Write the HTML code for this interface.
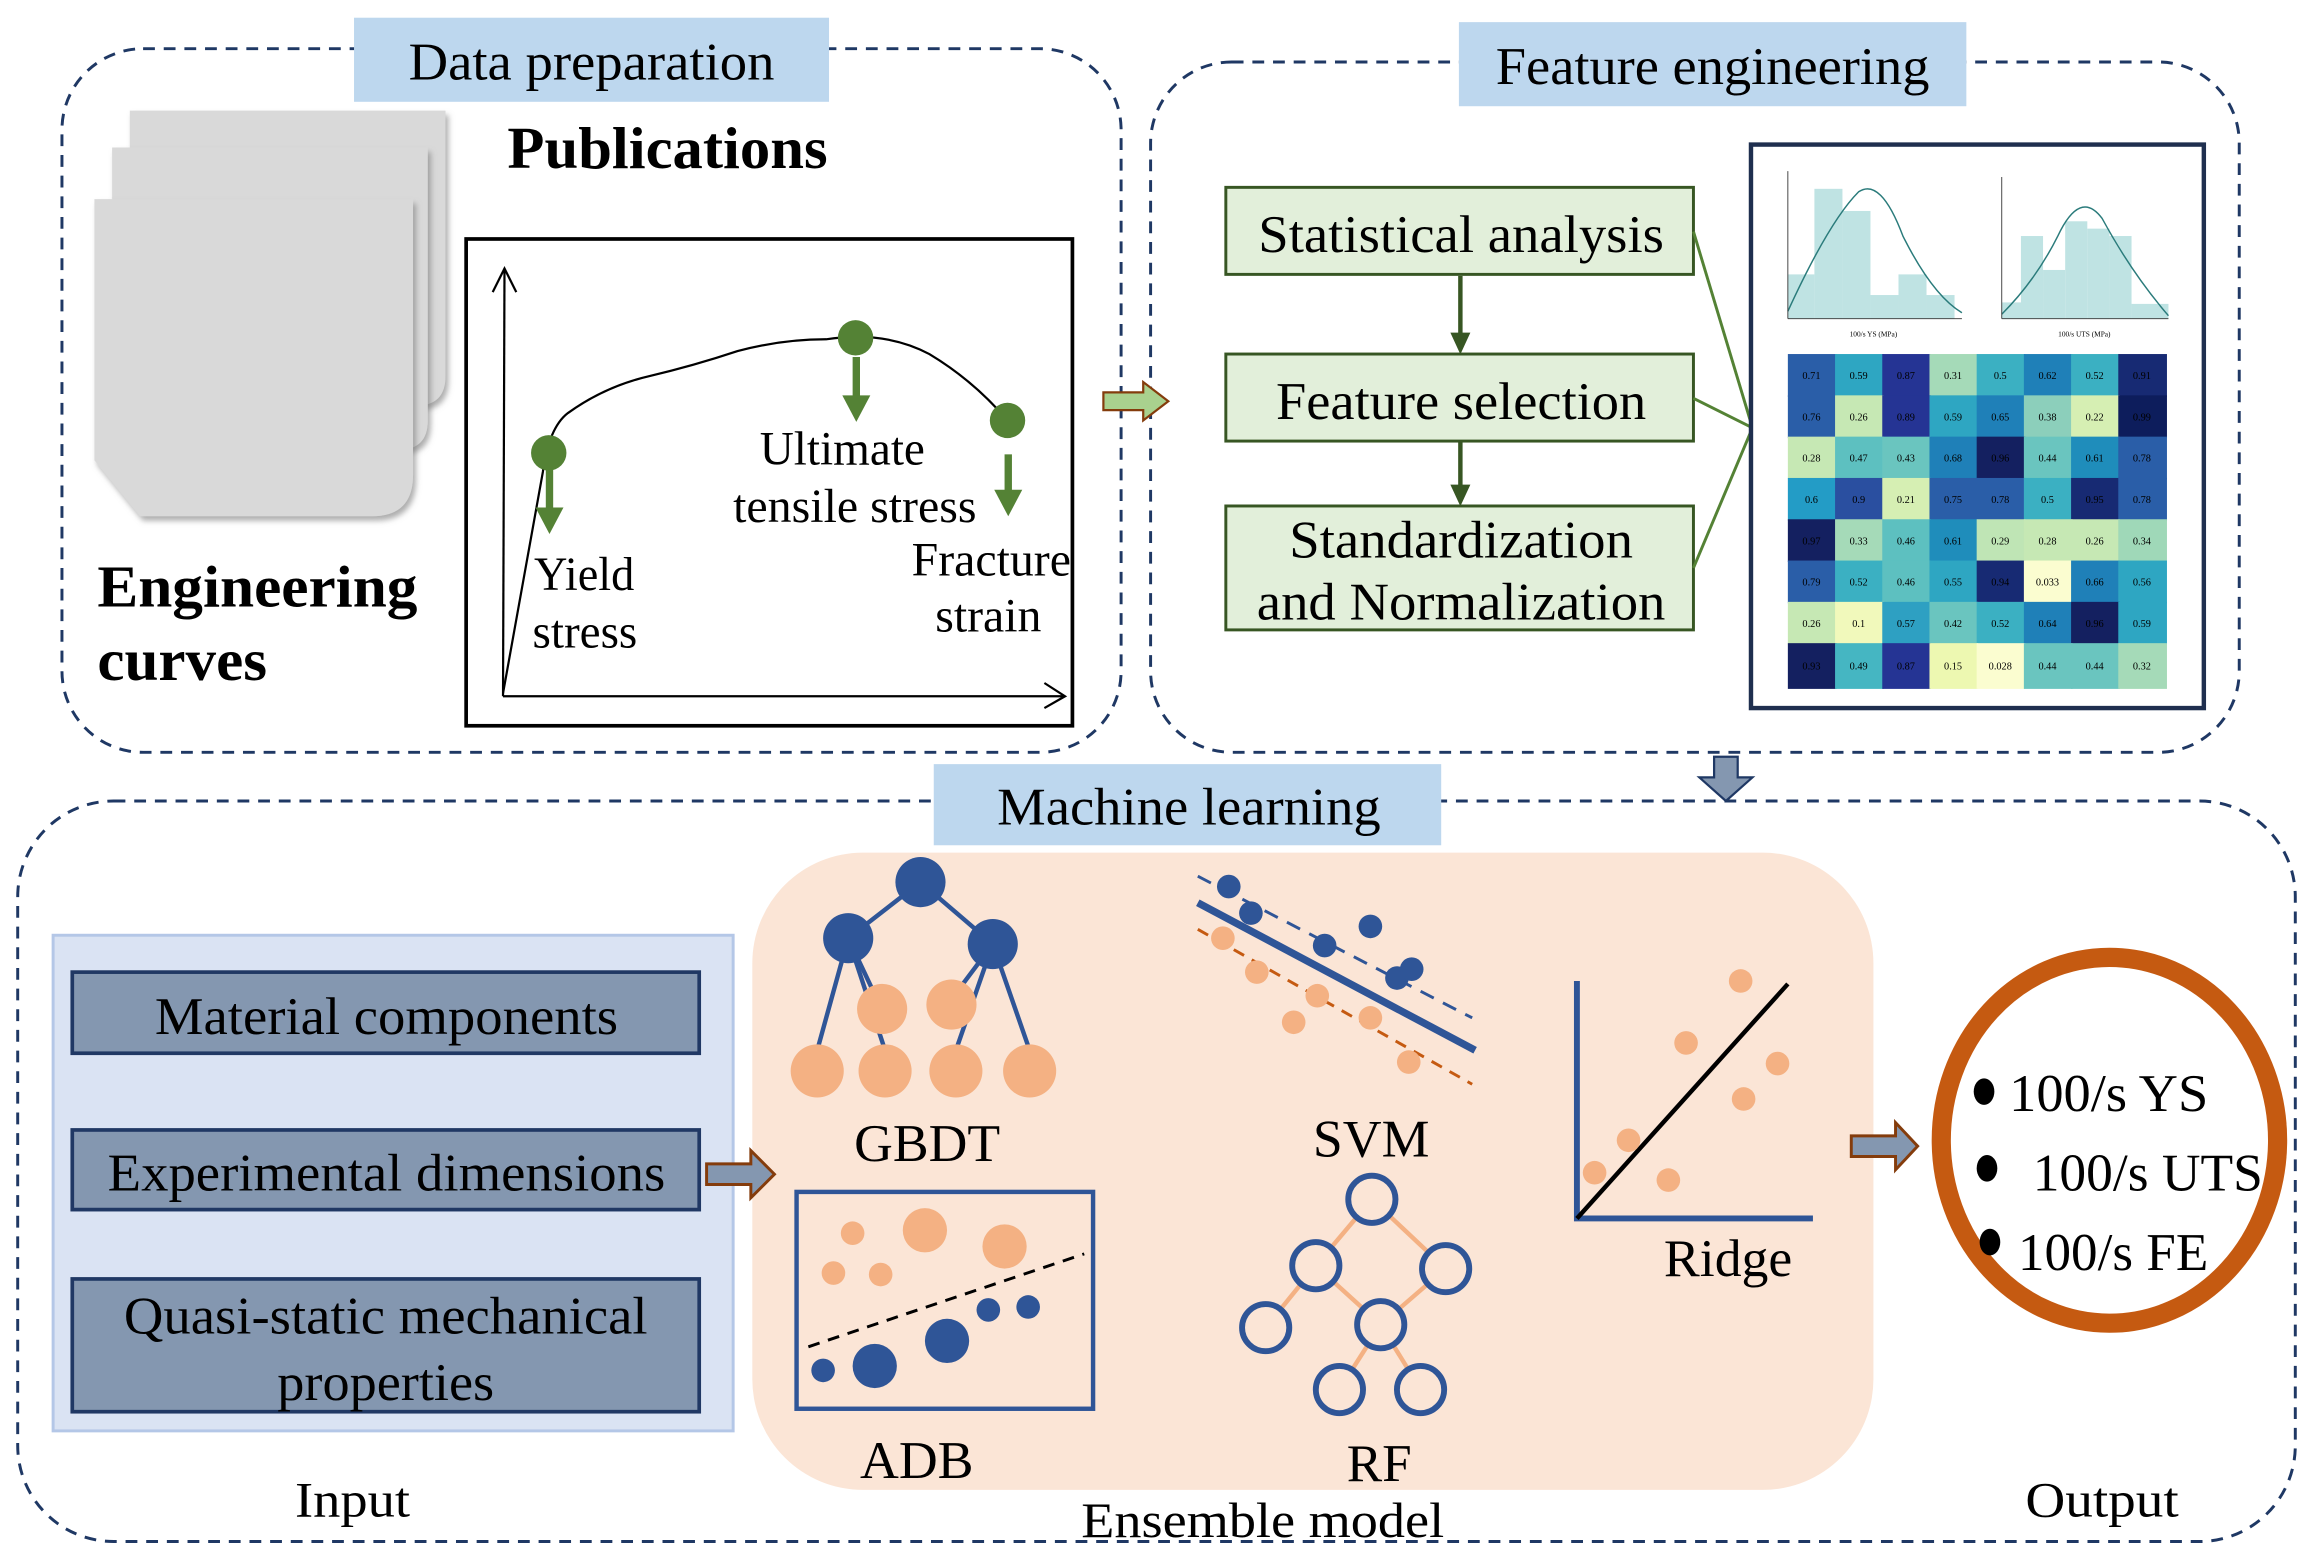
<!DOCTYPE html>
<html><head><meta charset="utf-8"><style>
html,body{margin:0;padding:0;background:#fff;}
svg{display:block;}
text{font-family:"Liberation Serif",serif;fill:#000;}
</style></head><body>
<svg width="2313" height="1561" viewBox="0 0 1568 1058.2" xmlns="http://www.w3.org/2000/svg">
<defs>
<filter id="sh" x="-10%" y="-10%" width="130%" height="130%"><feDropShadow dx="2" dy="3" stdDeviation="2" flood-color="#777" flood-opacity="0.6"/></filter>
</defs>
<rect x="42" y="33" width="718" height="477" rx="55" fill="none" stroke="#1f3864" stroke-width="2" stroke-dasharray="8,6"/>
<rect x="780" y="42" width="738" height="468" rx="55" fill="none" stroke="#1f3864" stroke-width="2" stroke-dasharray="8,6"/>
<rect x="12" y="543" width="1544" height="502" rx="65" fill="none" stroke="#1f3864" stroke-width="2" stroke-dasharray="8,6"/>

<rect x="240" y="12" width="322" height="57" fill="#bdd7ee"/>
<text x="277" y="54" font-size="36" textLength="248" lengthAdjust="spacingAndGlyphs">Data preparation</text>
<rect x="989" y="15" width="344" height="57" fill="#bdd7ee"/>
<text x="1014" y="57" font-size="36" textLength="294" lengthAdjust="spacingAndGlyphs">Feature engineering</text>
<rect x="633" y="518" width="344" height="55" fill="#bdd7ee"/>
<text x="676" y="559" font-size="36" textLength="260" lengthAdjust="spacingAndGlyphs">Machine learning</text>

<path d="M88 75 H302 V255 Q302 275 282 275 H88 Z" fill="#d9d9d9" filter="url(#sh)"/>
<path d="M76 100 H290 V285 Q290 305 270 305 H76 Z" fill="#d9d9d9" filter="url(#sh)"/>
<path d="M64 135 H280 V322 Q280 350 252 350 H95 L64 312 Z" fill="#d9d9d9" filter="url(#sh)"/>
<text x="344" y="114" font-size="40" font-weight="bold" textLength="217" lengthAdjust="spacingAndGlyphs">Publications</text>
<text x="66" y="411" font-size="40" font-weight="bold" textLength="217" lengthAdjust="spacingAndGlyphs">Engineering</text>
<text x="66" y="461" font-size="40" font-weight="bold" textLength="115" lengthAdjust="spacingAndGlyphs">curves</text>

<rect x="316" y="162" width="411" height="330" fill="none" stroke="#000" stroke-width="2.5"/>
<line x1="341" y1="472" x2="342" y2="182" stroke="#000" stroke-width="1.5"/>
<polyline points="334,198 342,182 350,198" fill="none" stroke="#000" stroke-width="1.5"/>
<line x1="341" y1="472" x2="722" y2="472" stroke="#000" stroke-width="1.5"/>
<polyline points="708,463 722,472 708,480" fill="none" stroke="#000" stroke-width="1.5"/>
<path d="M341 470 L368 320 Q372 290 385 280 Q410 262 440 255 Q470 248 500 238 Q530 230 560 230 Q600 224 630 240 Q660 258 683 285" fill="none" stroke="#000" stroke-width="1.5"/>
<g fill="#548235">
<circle cx="372" cy="307" r="12"/><circle cx="580" cy="229" r="12"/><circle cx="683" cy="285" r="12"/>
<rect x="370" y="318" width="5" height="28"/><polygon points="363,344 382,344 372.5,362"/>
<rect x="578" y="242" width="5" height="28"/><polygon points="571,268 590,268 580.5,286"/>
<rect x="681" y="308" width="5" height="26"/><polygon points="674,332 693,332 683.5,350"/>
</g>
<text x="362" y="400" font-size="32" textLength="68" lengthAdjust="spacingAndGlyphs">Yield</text>
<text x="361" y="439" font-size="32" textLength="71" lengthAdjust="spacingAndGlyphs">stress</text>
<text x="515" y="315" font-size="32" textLength="112" lengthAdjust="spacingAndGlyphs">Ultimate</text>
<text x="497" y="354" font-size="32" textLength="165" lengthAdjust="spacingAndGlyphs">tensile stress</text>
<text x="618" y="390" font-size="32" textLength="108" lengthAdjust="spacingAndGlyphs">Fracture</text>
<text x="634" y="428" font-size="32" textLength="72" lengthAdjust="spacingAndGlyphs">strain</text>

<polygon points="748,266 775,266 775,259 792,272 775,285 775,278 748,278" fill="#a9d18e" stroke="#843c0c" stroke-width="1.5"/>

<g stroke="#375623" stroke-width="2" fill="#e2efda">
<rect x="831" y="127" width="317" height="59"/>
<rect x="831" y="240" width="317" height="59"/>
<rect x="831" y="343" width="317" height="84"/>
</g>
<text x="853" y="171" font-size="36" textLength="275" lengthAdjust="spacingAndGlyphs">Statistical analysis</text>
<text x="865" y="284" font-size="36" textLength="251" lengthAdjust="spacingAndGlyphs">Feature selection</text>
<text x="874" y="378" font-size="36" textLength="233" lengthAdjust="spacingAndGlyphs">Standardization</text>
<text x="852" y="420" font-size="36" textLength="277" lengthAdjust="spacingAndGlyphs">and Normalization</text>
<g fill="#375623" stroke="#375623">
<line x1="990" y1="187" x2="990" y2="228" stroke-width="3"/><polygon points="984,226 996,226 990,239"/>
<line x1="990" y1="300" x2="990" y2="331" stroke-width="3"/><polygon points="984,329 996,329 990,342"/>
</g>
<g stroke="#548235" stroke-width="2">
<line x1="1148" y1="157" x2="1188" y2="290"/><line x1="1148" y1="270" x2="1188" y2="290"/><line x1="1148" y1="385" x2="1188" y2="290"/>
</g>

<rect x="1187" y="98" width="307" height="382" fill="#fff" stroke="#1f2f4f" stroke-width="3"/>
<g>
<rect x="1212" y="186" width="18" height="30" fill="#bfe3e3"/>
<rect x="1230" y="128" width="19" height="88" fill="#bfe3e3"/>
<rect x="1249" y="143" width="19" height="73" fill="#bfe3e3"/>
<rect x="1268" y="200" width="19" height="16" fill="#bfe3e3"/>
<rect x="1287" y="186" width="19" height="30" fill="#bfe3e3"/>
<rect x="1306" y="200" width="19" height="16" fill="#bfe3e3"/>
<path d="M1212 211 Q1240 150 1260 130 Q1275 120 1290 160 Q1310 200 1330 212" fill="none" stroke="#2a7b7b" stroke-width="1"/>
<line x1="1212" y1="116" x2="1212" y2="216" stroke="#333" stroke-width="0.6"/>
<line x1="1212" y1="216" x2="1330" y2="216" stroke="#333" stroke-width="0.6"/>
</g>
<g>
<rect x="1357" y="205" width="14" height="11" fill="#bfe3e3"/>
<rect x="1370" y="160" width="15" height="56" fill="#bfe3e3"/>
<rect x="1385" y="183" width="15" height="33" fill="#bfe3e3"/>
<rect x="1400" y="150" width="15" height="66" fill="#bfe3e3"/>
<rect x="1415" y="155" width="15" height="61" fill="#bfe3e3"/>
<rect x="1430" y="160" width="15" height="56" fill="#bfe3e3"/>
<rect x="1445" y="206" width="25" height="10" fill="#bfe3e3"/>
<path d="M1357 213 Q1380 190 1395 160 Q1410 128 1425 148 Q1445 185 1470 214" fill="none" stroke="#2a7b7b" stroke-width="1"/>
<line x1="1357" y1="120" x2="1357" y2="216" stroke="#333" stroke-width="0.6"/>
<line x1="1357" y1="216" x2="1470" y2="216" stroke="#333" stroke-width="0.6"/>
</g>
<text x="1270" y="228" font-size="5" text-anchor="middle">100/s YS (MPa)</text>
<text x="1413" y="228" font-size="5" text-anchor="middle">100/s UTS (MPa)</text>

<g font-size="7" text-anchor="middle" style="font-family:'Liberation Sans',sans-serif">
<g transform="translate(1212,240)">
<rect x="0" y="0" width="33" height="29" fill="#2a5ea8"/><rect x="32" y="0" width="33" height="29" fill="#2ea6c2"/><rect x="64" y="0" width="33" height="29" fill="#253494"/><rect x="96" y="0" width="33" height="29" fill="#a5dab8"/><rect x="128" y="0" width="33" height="29" fill="#3bb0c2"/><rect x="160" y="0" width="33" height="29" fill="#1f80b8"/><rect x="192" y="0" width="33" height="29" fill="#3bb0c2"/><rect x="224" y="0" width="33" height="29" fill="#172a73"/>
<rect x="0" y="28" width="33" height="29" fill="#2a5ea8"/><rect x="32" y="28" width="33" height="29" fill="#c6e8b4"/><rect x="64" y="28" width="33" height="29" fill="#253494"/><rect x="96" y="28" width="33" height="29" fill="#2ea6c2"/><rect x="128" y="28" width="33" height="29" fill="#1f80b8"/><rect x="160" y="28" width="33" height="29" fill="#8ccfbb"/><rect x="192" y="28" width="33" height="29" fill="#d6efb3"/><rect x="224" y="28" width="33" height="29" fill="#0d1d5c"/>
<rect x="0" y="56" width="33" height="29" fill="#c6e8b4"/><rect x="32" y="56" width="33" height="29" fill="#5dc0c0"/><rect x="64" y="56" width="33" height="29" fill="#6ac5bf"/><rect x="96" y="56" width="33" height="29" fill="#1f80b8"/><rect x="128" y="56" width="33" height="29" fill="#142060"/><rect x="160" y="56" width="33" height="29" fill="#6ac5bf"/><rect x="192" y="56" width="33" height="29" fill="#1f8dbb"/><rect x="224" y="56" width="33" height="29" fill="#2a5ea8"/>
<rect x="0" y="84" width="33" height="29" fill="#239cc6"/><rect x="32" y="84" width="33" height="29" fill="#2a4fa0"/><rect x="64" y="84" width="33" height="29" fill="#d6efb3"/><rect x="96" y="84" width="33" height="29" fill="#2a5ea8"/><rect x="128" y="84" width="33" height="29" fill="#2a5ea8"/><rect x="160" y="84" width="33" height="29" fill="#3bb0c2"/><rect x="192" y="84" width="33" height="29" fill="#172a73"/><rect x="224" y="84" width="33" height="29" fill="#2a5ea8"/>
<rect x="0" y="112" width="33" height="29" fill="#142060"/><rect x="32" y="112" width="33" height="29" fill="#a5dab8"/><rect x="64" y="112" width="33" height="29" fill="#5dc0c0"/><rect x="96" y="112" width="33" height="29" fill="#1f8dbb"/><rect x="128" y="112" width="33" height="29" fill="#bfe5b5"/><rect x="160" y="112" width="33" height="29" fill="#c6e8b4"/><rect x="192" y="112" width="33" height="29" fill="#c6e8b4"/><rect x="224" y="112" width="33" height="29" fill="#9fd8b8"/>
<rect x="0" y="140" width="33" height="29" fill="#2a5ea8"/><rect x="32" y="140" width="33" height="29" fill="#3bb0c2"/><rect x="64" y="140" width="33" height="29" fill="#5dc0c0"/><rect x="96" y="140" width="33" height="29" fill="#2ea6c2"/><rect x="128" y="140" width="33" height="29" fill="#172a73"/><rect x="160" y="140" width="33" height="29" fill="#fbfdd0"/><rect x="192" y="140" width="33" height="29" fill="#1f80b8"/><rect x="224" y="140" width="33" height="29" fill="#2ea6c2"/>
<rect x="0" y="168" width="33" height="29" fill="#c6e8b4"/><rect x="32" y="168" width="33" height="29" fill="#f1f9bb"/><rect x="64" y="168" width="33" height="29" fill="#2ea0c2"/><rect x="96" y="168" width="33" height="29" fill="#6ac5bf"/><rect x="128" y="168" width="33" height="29" fill="#3bb0c2"/><rect x="160" y="168" width="33" height="29" fill="#1f80b8"/><rect x="192" y="168" width="33" height="29" fill="#142060"/><rect x="224" y="168" width="33" height="29" fill="#2ea6c2"/>
<rect x="0" y="196" width="33" height="31" fill="#142060"/><rect x="32" y="196" width="33" height="31" fill="#45b6c2"/><rect x="64" y="196" width="33" height="31" fill="#253494"/><rect x="96" y="196" width="33" height="31" fill="#edf8b1"/><rect x="128" y="196" width="33" height="31" fill="#fbfdd0"/><rect x="160" y="196" width="33" height="31" fill="#6ac5bf"/><rect x="192" y="196" width="33" height="31" fill="#6ac5bf"/><rect x="224" y="196" width="33" height="31" fill="#a5dab8"/>
<g fill="#fff">
<text x="16" y="17">0.71</text><text x="48" y="17">0.59</text><text x="80" y="17">0.87</text><text x="112" y="17" fill="#333">0.31</text><text x="144" y="17">0.5</text><text x="176" y="17">0.62</text><text x="208" y="17">0.52</text><text x="240" y="17">0.91</text>
<text x="16" y="45">0.76</text><text x="48" y="45" fill="#333">0.26</text><text x="80" y="45">0.89</text><text x="112" y="45">0.59</text><text x="144" y="45">0.65</text><text x="176" y="45" fill="#333">0.38</text><text x="208" y="45" fill="#333">0.22</text><text x="240" y="45">0.99</text>
<text x="16" y="73" fill="#333">0.28</text><text x="48" y="73" fill="#333">0.47</text><text x="80" y="73" fill="#333">0.43</text><text x="112" y="73">0.68</text><text x="144" y="73">0.96</text><text x="176" y="73" fill="#333">0.44</text><text x="208" y="73">0.61</text><text x="240" y="73">0.78</text>
<text x="16" y="101">0.6</text><text x="48" y="101">0.9</text><text x="80" y="101" fill="#333">0.21</text><text x="112" y="101">0.75</text><text x="144" y="101">0.78</text><text x="176" y="101">0.5</text><text x="208" y="101">0.95</text><text x="240" y="101">0.78</text>
<text x="16" y="129">0.97</text><text x="48" y="129" fill="#333">0.33</text><text x="80" y="129" fill="#333">0.46</text><text x="112" y="129">0.61</text><text x="144" y="129" fill="#333">0.29</text><text x="176" y="129" fill="#333">0.28</text><text x="208" y="129" fill="#333">0.26</text><text x="240" y="129" fill="#333">0.34</text>
<text x="16" y="157">0.79</text><text x="48" y="157">0.52</text><text x="80" y="157" fill="#333">0.46</text><text x="112" y="157">0.55</text><text x="144" y="157">0.94</text><text x="176" y="157" fill="#333">0.033</text><text x="208" y="157">0.66</text><text x="240" y="157">0.56</text>
<text x="16" y="185" fill="#333">0.26</text><text x="48" y="185" fill="#333">0.1</text><text x="80" y="185">0.57</text><text x="112" y="185" fill="#333">0.42</text><text x="144" y="185">0.52</text><text x="176" y="185">0.64</text><text x="208" y="185">0.96</text><text x="240" y="185">0.59</text>
<text x="16" y="214">0.93</text><text x="48" y="214">0.49</text><text x="80" y="214">0.87</text><text x="112" y="214" fill="#333">0.15</text><text x="144" y="214" fill="#333">0.028</text><text x="176" y="214" fill="#333">0.44</text><text x="208" y="214" fill="#333">0.44</text><text x="240" y="214" fill="#333">0.32</text>
</g>
</g>
</g>

<polygon points="1162,513 1178,513 1178,527 1188,527 1170,543 1152,527 1162,527" fill="#8497b0" stroke="#1f3864" stroke-width="1.5"/>

<rect x="36" y="634" width="461" height="336" fill="#dae3f3" stroke="#b4c7e7" stroke-width="2"/>
<g fill="#8497b0" stroke="#203864" stroke-width="2.5">
<rect x="49" y="659" width="425" height="55"/>
<rect x="49" y="766" width="425" height="54"/>
<rect x="49" y="867" width="425" height="90"/>
</g>
<text x="105" y="701" font-size="36" textLength="314" lengthAdjust="spacingAndGlyphs">Material components</text>
<text x="73" y="807" font-size="36" textLength="378" lengthAdjust="spacingAndGlyphs">Experimental dimensions</text>
<text x="84" y="904" font-size="36" textLength="355" lengthAdjust="spacingAndGlyphs">Quasi-static mechanical</text>
<text x="188" y="949" font-size="36" textLength="147" lengthAdjust="spacingAndGlyphs">properties</text>

<rect x="510" y="578" width="760" height="432" rx="75" fill="#fbe5d6"/>
<polygon points="479,789 509,789 509,780 525,796 509,812 509,803 479,803" fill="#8497b0" stroke="#843c0c" stroke-width="2"/>
<g stroke="#2f5597" stroke-width="3">
<line x1="624" y1="598" x2="575" y2="636"/><line x1="624" y1="598" x2="673" y2="640"/>
<line x1="575" y1="636" x2="554" y2="712"/><line x1="575" y1="636" x2="600" y2="712"/><line x1="575" y1="636" x2="592" y2="672"/>
<line x1="673" y1="640" x2="648" y2="712"/><line x1="673" y1="640" x2="698" y2="712"/><line x1="673" y1="640" x2="652" y2="668"/>
</g>
<g fill="#f4b183">
<circle cx="598" cy="684" r="17"/><circle cx="645" cy="681" r="17"/>
<circle cx="554" cy="726" r="18"/><circle cx="600" cy="726" r="18"/><circle cx="648" cy="726" r="18"/><circle cx="698" cy="726" r="18"/>
</g>
<g fill="#2f5597">
<circle cx="624" cy="598" r="17"/><circle cx="575" cy="636" r="17"/><circle cx="673" cy="640" r="17"/>
</g>
<text x="579" y="787" font-size="36" textLength="99" lengthAdjust="spacingAndGlyphs">GBDT</text>
<line x1="812" y1="594" x2="998" y2="690" stroke="#2f5597" stroke-width="2" stroke-dasharray="10,7"/>
<line x1="812" y1="612" x2="1000" y2="712" stroke="#2f5597" stroke-width="5"/>
<line x1="812" y1="630" x2="998" y2="735" stroke="#c55a11" stroke-width="2" stroke-dasharray="8,6"/>
<g fill="#2f5597">
<circle cx="833" cy="601" r="8"/><circle cx="848" cy="619" r="8"/><circle cx="898" cy="641" r="8"/><circle cx="929" cy="628" r="8"/><circle cx="947" cy="663" r="8"/><circle cx="957" cy="657" r="8"/>
</g>
<g fill="#f4b183">
<circle cx="829" cy="636" r="8"/><circle cx="852" cy="659" r="8"/><circle cx="893" cy="675" r="8"/><circle cx="877" cy="693" r="8"/><circle cx="929" cy="690" r="8"/><circle cx="955" cy="720" r="8"/>
</g>
<text x="890" y="784" font-size="36" textLength="79" lengthAdjust="spacingAndGlyphs">SVM</text>
<polyline points="1069,665 1069,826 1229,826" fill="none" stroke="#2f5597" stroke-width="4"/>
<line x1="1069" y1="826" x2="1212" y2="667" stroke="#000" stroke-width="3"/>
<g fill="#f4b183">
<circle cx="1180" cy="665" r="8"/><circle cx="1205" cy="721" r="8"/><circle cx="1143" cy="707" r="8"/><circle cx="1182" cy="745" r="8"/><circle cx="1104" cy="773" r="8"/><circle cx="1081" cy="795" r="8"/><circle cx="1131" cy="800" r="8"/>
</g>
<text x="1128" y="865" font-size="36" textLength="87" lengthAdjust="spacingAndGlyphs">Ridge</text>
<rect x="540" y="808" width="201" height="147" fill="none" stroke="#2f5597" stroke-width="3"/>
<g fill="#f4b183">
<circle cx="578" cy="836" r="8"/><circle cx="627" cy="834" r="15"/><circle cx="681" cy="845" r="15"/><circle cx="565" cy="863" r="8"/><circle cx="597" cy="864" r="8"/>
</g>
<line x1="548" y1="913" x2="735" y2="850" stroke="#000" stroke-width="2" stroke-dasharray="8,6"/>
<g fill="#2f5597">
<circle cx="558" cy="929" r="8"/><circle cx="593" cy="926" r="15"/><circle cx="642" cy="909" r="15"/><circle cx="670" cy="888" r="8"/><circle cx="697" cy="886" r="8"/>
</g>
<text x="583" y="1002" font-size="36" textLength="77" lengthAdjust="spacingAndGlyphs">ADB</text>
<g stroke="#f4b183" stroke-width="3">
<line x1="930" y1="813" x2="892" y2="858"/><line x1="930" y1="813" x2="980" y2="860"/>
<line x1="892" y1="858" x2="858" y2="900"/><line x1="892" y1="858" x2="936" y2="898"/>
<line x1="980" y1="860" x2="936" y2="898"/><line x1="936" y1="898" x2="908" y2="942"/><line x1="936" y1="898" x2="963" y2="942"/>
</g>
<g fill="#fbe5d6" stroke="#2f5597" stroke-width="4">
<circle cx="930" cy="813" r="16"/><circle cx="892" cy="858" r="16"/><circle cx="980" cy="860" r="16"/><circle cx="858" cy="900" r="16"/><circle cx="936" cy="898" r="16"/><circle cx="908" cy="942" r="16"/><circle cx="963" cy="942" r="16"/>
</g>
<text x="913" y="1004" font-size="36" textLength="44" lengthAdjust="spacingAndGlyphs">RF</text>

<polygon points="1255,770 1285,770 1285,761 1300,777 1285,793 1285,784 1255,784" fill="#8497b0" stroke="#843c0c" stroke-width="2"/>
<ellipse cx="1430" cy="773" rx="114" ry="124" fill="none" stroke="#c55a11" stroke-width="13"/>
<g fill="#000"><ellipse cx="1345" cy="740" rx="7" ry="9"/><ellipse cx="1347" cy="792" rx="7" ry="9"/><ellipse cx="1349" cy="842" rx="7" ry="9"/></g>
<text x="1362" y="753" font-size="36" textLength="135" lengthAdjust="spacingAndGlyphs">100/s YS</text>
<text x="1378" y="807" font-size="36" textLength="156" lengthAdjust="spacingAndGlyphs">100/s UTS</text>
<text x="1368" y="861" font-size="36" textLength="129" lengthAdjust="spacingAndGlyphs">100/s FE</text>

<text x="200" y="1028" font-size="34" textLength="78" lengthAdjust="spacingAndGlyphs">Input</text>
<text x="733" y="1042" font-size="34" textLength="246" lengthAdjust="spacingAndGlyphs">Ensemble model</text>
<text x="1373" y="1028" font-size="34" textLength="104" lengthAdjust="spacingAndGlyphs">Output</text>
</svg>
</body></html>
